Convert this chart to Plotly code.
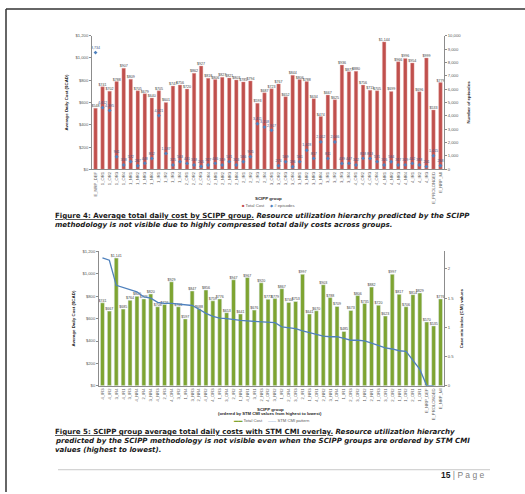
import plotly.graph_objects as go

W, H = 525, 494
def px(x): return x / W
def py(y): return 1 - y / H

# ---------------- data: Figure 4 ----------------
groups_fig4 = ["E_NRP_DEF", "1_OR1", "1_OR2", "1_OR3", "1_OR4", "1_NR1", "1_NR2", "1_NR3", "1_NR4",
               "1_IR1", "1_IR2", "1_IR3", "1_IR4", "2_OR1", "2_OR2", "2_OR3", "2_OR4", "2_NR1",
               "2_NR2", "2_NR3", "2_NR4", "2_IR1", "2_IR2", "2_IR3", "2_IR4", "3_OR1", "3_OR2",
               "3_OR3", "3_OR4", "3_NR1", "3_NR2", "3_NR3", "3_NR4", "3_IR1", "3_IR2", "3_IR3",
               "3_IR4", "4_OR1", "4_OR2", "4_OR3", "4_OR4", "4_NR1", "4_NR2", "4_NR3", "4_NR4",
               "4_IR1", "4_IR2", "4_IR3", "E_PROLONGED", "E_NRP_MI"]
total_cost_fig4 = [548, 741, 702, 788, 907, 809, 705, 679, 640, 705, 601, 747, 756, 720, 862, 927,
                   818, 806, 827, 821, 803, 785, 794, 593, 687, 723, 767, 652, 844, 806, 788, 634,
                   474, 667, 625, 936, 877, 880, 756, 711, 705, 1144, 699, 966, 996, 954, 696, 999,
                   533, 779]
episodes_fig4 = [8734, 4612, 4395, 941, 318, 572, 267, 448, 812, 4021, 1187, 325, 563, 441, 318, 205,
                 327, 446, 319, 571, 324, 566, 935, 3411, 3158, 2917, 274, 569, 196, 561, 1428, 817,
                 2052, 811, 2046, 439, 447, 322, 818, 813, 571, 326, 564, 317, 329, 442, 318, 201,
                 1015, 268]

# ---------------- data: Figure 5 ----------------
groups_fig5 = ["4_IR3", "4_IR2", "3_IR4", "4_IR1", "3_IR3", "4_NR4", "2_IR4", "3_NR4", "4_NR3",
               "2_IR3", "4_OR4", "3_IR2", "1_IR4", "3_NR3", "2_NR4", "4_NR2", "4_OR3", "1_IR3",
               "3_OR4", "2_IR2", "1_NR4", "4_NR1", "3_IR1", "2_NR3", "4_OR2", "3_NR2", "1_IR2",
               "2_OR4", "3_OR3", "2_IR1", "1_NR3", "4_OR1", "2_NR2", "3_NR1", "1_OR4", "1_IR1",
               "2_OR3", "3_OR2", "1_NR2", "2_NR1", "1_OR3", "3_OR1", "2_OR2", "1_NR1", "1_OR2",
               "2_OR1", "1_OR1", "E_NRP_DEF", "E_PROLONGED", "E_NRP_MI"]
total_cost_fig5 = [741, 667, 1141, 685, 764, 800, 776, 820, 706, 726, 929, 706, 597, 847, 688, 856,
                   759, 776, 653, 947, 641, 967, 676, 920, 773, 779, 867, 744, 753, 997, 641, 670,
                   903, 788, 709, 485, 673, 806, 735, 882, 720, 623, 997, 817, 706, 814, 829, 570,
                   535, 776]
stm_cmi_fig5 = [2.19, 2.15, 1.72, 1.68, 1.64, 1.61, 1.52, 1.50, 1.43, 1.41, 1.41, 1.40, 1.39, 1.375,
                1.31, 1.24, 1.19, 1.16, 1.15, 1.13, 1.12, 1.11, 1.10, 1.09, 1.09, 1.08, 1.01, 0.99,
                0.98, 0.94, 0.91, 0.89, 0.85, 0.84, 0.84, 0.81, 0.78, 0.78, 0.77, 0.73, 0.69, 0.65,
                0.63, 0.60, 0.59, 0.44, 0.28, 0.0, 0.0, None]

cost_ticks = [0, 200, 400, 600, 800, 1000, 1200]
cost_ticktext = ["$0", "$200", "$400", "$600", "$800", "$1,000", "$1,200"]
episode_ticks = list(range(0, 10001, 1000))
cmi_ticks = [0, 0.5, 1, 1.5, 2]

RED = "#c0504d"
BLUE = "#4f81bd"
GREEN = "#7ea432"
GREY = "#595959"
FONT = "Liberation Sans"
CAPFONT = "DejaVu Sans"

def money(v):
    return "${:,.0f}".format(v)

idx4 = list(range(len(groups_fig4)))
idx5 = list(range(len(groups_fig5)))

fig = go.Figure()
fig.add_trace(go.Bar(x=idx4, y=total_cost_fig4, name="Total Cost",
                     marker=dict(color=RED, line=dict(color="#e6a9a7", width=0.4)),
                     width=0.5, text=[money(v) for v in total_cost_fig4], textposition="outside",
                     textangle=0, constraintext="none", cliponaxis=False,
                     textfont=dict(size=3.6, color="#404040", family=FONT),
                     xaxis="x", yaxis="y", showlegend=False))
fig.add_trace(go.Scatter(x=idx4, y=episodes_fig4, name="# episodes", mode="markers+text",
                         marker=dict(symbol="diamond", size=3, color=BLUE),
                         text=["{:,}".format(v) for v in episodes_fig4], textposition="top center",
                         textfont=dict(size=3.6, color="#3a5a8a", family=FONT), cliponaxis=False,
                         xaxis="x", yaxis="y2", showlegend=False))

fig.add_trace(go.Bar(x=idx5, y=total_cost_fig5, name="Total Cost", marker_color=GREEN,
                     width=0.58, text=[money(v) for v in total_cost_fig5], textposition="outside",
                     textangle=0, constraintext="none", cliponaxis=False,
                     textfont=dict(size=3.6, color="#404040", family=FONT),
                     xaxis="x2", yaxis="y3", showlegend=False))
fig.add_trace(go.Scatter(x=idx5, y=stm_cmi_fig5, name="STM CMI pattern", mode="lines",
                         line=dict(color=BLUE, width=1.3), connectgaps=False,
                         xaxis="x2", yaxis="y4", showlegend=False))

tickfont = dict(size=4.2, color=GREY, family=FONT)
titlefont = dict(size=4.4, color="#262626", family=FONT)
common_axis = dict(showgrid=False, zeroline=False, showline=True, linecolor="#8c8c8c",
                   linewidth=0.8, ticks="outside", ticklen=2, tickcolor="#8c8c8c", tickfont=tickfont)

fig.update_layout(
    width=W, height=H, margin=dict(l=0, r=0, t=0, b=0),
    paper_bgcolor="white", plot_bgcolor="white", showlegend=False, bargap=0.3,
    xaxis=dict(domain=[px(92), px(444)], anchor="y", range=[-0.5, len(idx4) - 0.5],
               tickvals=idx4, ticktext=groups_fig4, tickangle=-90, showgrid=False, zeroline=False,
               showline=True, linecolor="#8c8c8c", linewidth=0.8, ticks="", tickfont=tickfont),
    yaxis=dict(domain=[py(168), py(33)], anchor="x", range=[0, 1200], tickvals=cost_ticks,
               ticktext=cost_ticktext,
               title=dict(text="<b>Average Daily Cost ($CAD)</b>", font=titlefont, standoff=6),
               **common_axis),
    yaxis2=dict(overlaying="y", side="right", anchor="x", range=[0, 10000], tickvals=episode_ticks,
                tickformat=",", title=dict(text="<b>Number of episodes</b>", font=titlefont, standoff=6),
                **common_axis),
    xaxis2=dict(domain=[px(99), px(444)], anchor="y3", range=[-0.5, len(idx5) - 0.5],
                tickvals=idx5, ticktext=groups_fig5, tickangle=-90, showgrid=False, zeroline=False,
                showline=True, linecolor="#8c8c8c", linewidth=0.8, ticks="", tickfont=tickfont),
    yaxis3=dict(domain=[py(386.7), py(251)], anchor="x2", range=[0, 1200], tickvals=cost_ticks,
                ticktext=cost_ticktext,
                title=dict(text="<b>Average Daily Cost ($CAD)</b>", font=titlefont, standoff=6),
                **common_axis),
    yaxis4=dict(overlaying="y3", side="right", anchor="x2", range=[0, 2.3], tickvals=cmi_ticks,
                ticktext=["0", "0.5", "1", "1.5", "2"],
                title=dict(text="<b>Case mix index (CMI) values</b>", font=titlefont, standoff=6),
                **common_axis),
)

ann = []
def text(x, y, s, size, color="#1a1a1a", anchor="left", family=FONT):
    ann.append(dict(xref="paper", yref="paper", x=px(x), y=py(y), text=s, showarrow=False,
                    xanchor=anchor, yanchor="middle", font=dict(size=size, color=color, family=family)))

# axis titles and legends
text(268, 198, "<b>SCIPP group</b>", 4.4, "#262626", "center")
text(268, 205, "<span style='color:%s'>■</span> Total Cost&nbsp;&nbsp;&nbsp;&nbsp;&nbsp;"
               "<span style='color:%s'>◆</span> # episodes" % (RED, BLUE), 4.2, GREY, "center")
text(270, 410.5, "<b>SCIPP group</b>", 4.4, "#262626", "center")
text(270, 415, "<b>(ordered by STM CMI values from highest to lowest)</b>", 4.2, "#262626", "center")
text(272, 421.7, "<span style='color:%s'><b>▬▬</b></span> Total Cost&nbsp;&nbsp;&nbsp;&nbsp;&nbsp;"
                 "<span style='color:%s'>——</span> STM CMI pattern" % (GREEN, BLUE), 4.2, GREY, "center")

# captions
CAP = 7.05
text(53, 214.5, "<b><u>Figure 4: Average total daily cost by SCIPP group.</u></b>"
                "<b><i> Resource utilization hierarchy predicted by the SCIPP</i></b>", CAP, family=CAPFONT)
text(53, 223.5, "<b><i>methodology is not visible due to highly compressed total daily costs across groups.</i></b>",
     CAP, family=CAPFONT)
text(53, 433, "<b><u>Figure 5: SCIPP group average total daily costs with STM CMI overlay.</u></b>"
              "<b><i> Resource utilization hierarchy</i></b>", CAP, family=CAPFONT)
text(53, 442, "<b><i>predicted by the SCIPP methodology is not visible even when the SCIPP groups are ordered by STM CMI</i></b>",
     CAP, family=CAPFONT)
text(53, 451, "<b><i>values (highest to lowest).</i></b>", CAP, family=CAPFONT)

# page footer
text(486, 477, "<b>15</b> <span style='color:#7f7f7f'>| P a g e</span>", 8.5, "#1a1a1a", "right")
fig.update_layout(annotations=ann)

# page frame and footer rule
fig.add_shape(type="line", xref="paper", yref="paper", x0=px(6), x1=1, y0=py(6), y1=py(6),
              line=dict(color="#333333", width=1.5))
fig.add_shape(type="line", xref="paper", yref="paper", x0=px(6), x1=px(6), y0=py(6), y1=0,
              line=dict(color="#333333", width=1.5))
fig.add_shape(type="line", xref="paper", yref="paper", x0=px(58), x1=px(490), y0=py(471.5), y1=py(471.5),
              line=dict(color="#c8c8c8", width=1))

fig.write_html("out.html")
